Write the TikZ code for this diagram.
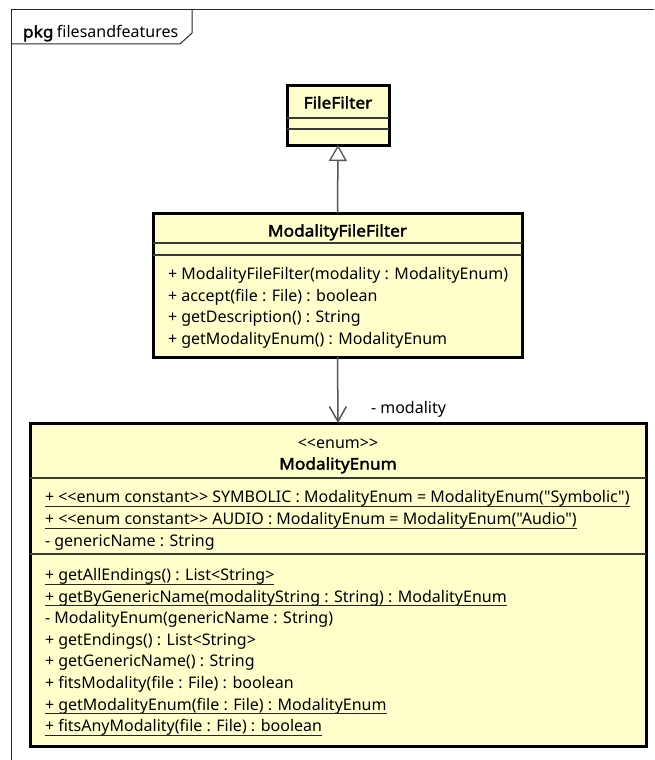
\documentclass[tikz,border=0pt]{standalone}
\usepackage{fontspec}
\newfontfamily\umlfont{Noto Sans}
\newfontfamily\umlbold{Noto Sans}[FakeBold=2.2, FakeStretch=1.08]
\usetikzlibrary{arrows.meta}
\definecolor{classfill}{HTML}{FFFFCC}
\definecolor{sepgray}{HTML}{3A3A3A}
\definecolor{edgegray}{HTML}{555555}
\begin{document}
\begin{tikzpicture}[x=1pt,y=-1pt,
  font=\umlfont\fontsize{16}{19}\selectfont,
  classbox/.style={draw=black, line width=3pt, fill=classfill, inner sep=0pt, outer sep=0pt},
  sepline/.style={draw=sepgray, line width=1.3pt},
  member/.style={anchor=base west, inner sep=0pt, outer sep=0pt},
  title/.style={anchor=base, inner sep=0pt, outer sep=0pt, font=\umlbold\fontsize{16}{19}\selectfont},
  uline/.style={draw=black!85, line width=0.9pt},
  frameline/.style={draw=black!85, line width=1pt},
  generalization/.style={draw=edgegray, line width=1.5pt, -{Triangle[open, length=16pt, width=18pt, fill=white, line width=1.3pt]}},
  association/.style={draw=edgegray, line width=1.5pt, -{Straight Barb[length=15pt, width=17pt, line width=1.5pt]}},
]
\useasboundingbox (0,0) rectangle (654,760);
\clip (0,0) rectangle (654,760);

% package frame with its name tab
\draw[frameline] (11,790) -- (11,10) -- (680,10);
\draw[frameline] (11,44) -- (180,44) -- (192,33) -- (192,10);
\node[member] (pkgname) at (23,37.5) {{\umlbold pkg}\hspace{3.5pt}filesandfeatures};

% class boxes
\node[classbox, minimum width=102pt, minimum height=60pt] (ff) at (338,115) {};
\node[classbox, minimum width=369pt, minimum height=144pt] (mff) at (337.5,285) {};
\node[classbox, minimum width=616pt, minimum height=323pt] (enum) at (338,584.5) {};

% FileFilter
\node[title] (fftitle) at (338,108.5) {FileFilter};
\draw[sepline] (ff.west |- 0,118) -- (ff.east |- 0,118);
\draw[sepline] (ff.west |- 0,129) -- (ff.east |- 0,129);

% ModalityFileFilter
\node[title] (mfftitle) at (337.5,236.5) {ModalityFileFilter};
\draw[sepline] (mff.west |- 0,243) -- (mff.east |- 0,243);
\draw[sepline] (mff.west |- 0,255) -- (mff.east |- 0,255);
\node[member] (m1) at (168,279.7) {+ ModalityFileFilter(modality : ModalityEnum)};
\node[member] (m2) at (168,301.2) {+ accept(file : File) : boolean};
\node[member] (m3) at (168,322.7) {+ getDescription() : String};
\node[member] (m4) at (168,344.2) {+ getModalityEnum() : ModalityEnum};

% ModalityEnum
\node[member, anchor=base] (stereo) at (338,448.5) {<<enum>>};
\node[title] (enumtitle) at (338,469.5) {ModalityEnum};
\draw[sepline] (enum.west |- 0,478) -- (enum.east |- 0,478);
\node[member] (a1) at (45,502.5) {+ <<enum constant>> SYMBOLIC : ModalityEnum = ModalityEnum("Symbolic")};
\node[member] (a2) at (45,524.5) {+ <<enum constant>> AUDIO : ModalityEnum = ModalityEnum("Audio")};
\node[member] (a3) at (45,546.5) {- genericName : String};
\draw[sepline] (enum.west |- 0,554) -- (enum.east |- 0,554);
\node[member] (e1) at (45,580.5) {+ getAllEndings() : List<String>};
\node[member] (e2) at (45,602.1) {+ getByGenericName(modalityString : String) : ModalityEnum};
\node[member] (e3) at (45,623.7) {- ModalityEnum(genericName : String)};
\node[member] (e4) at (45,645.3) {+ getEndings() : List<String>};
\node[member] (e5) at (45,666.9) {+ getGenericName() : String};
\node[member] (e6) at (45,688.5) {+ fitsModality(file : File) : boolean};
\node[member] (e7) at (45,710.1) {+ getModalityEnum(file : File) : ModalityEnum};
\node[member] (e8) at (45,731.7) {+ fitsAnyModality(file : File) : boolean};

% static members are underlined
\foreach \n in {a1,a2,e1,e2,e7,e8}
  \draw[uline] ([yshift=-3.5pt]\n.base west) -- ([yshift=-3.5pt]\n.base east);

% relations
\draw[generalization] (mff.north) -- (ff.south);
\draw[association] (mff.south) -- (enum.north);
\node[member] (rolename) at (371,413.5) {- modality};
\end{tikzpicture}
\end{document}
